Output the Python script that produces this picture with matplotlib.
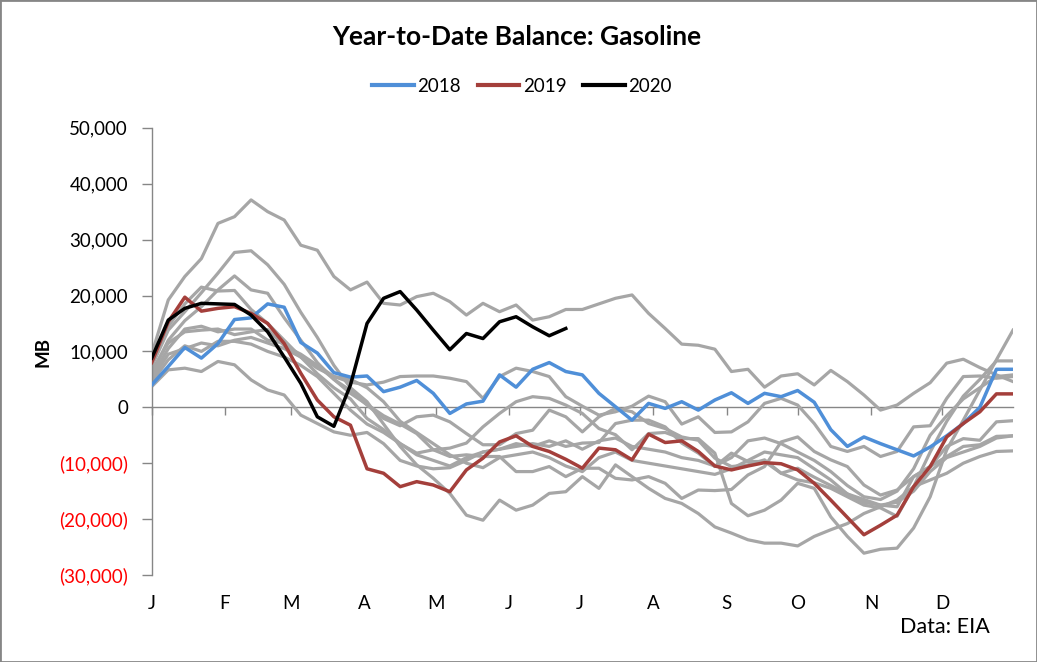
import matplotlib
matplotlib.use("Agg")
import matplotlib.pyplot as plt
from matplotlib.patches import Rectangle
from matplotlib.lines import Line2D
import numpy as np

plt.rcParams['font.family'] = ['Lato', 'DejaVu Sans']

# ---- data (thousand barrels, weekly) ----
months = ["J", "F", "M", "A", "M", "J", "J", "A", "S", "O", "N", "D"]
month_start_day = [0, 31, 59, 90, 120, 151, 181, 212, 243, 273, 304, 334]

y2018 = [4.0, 7.3, 10.7, 8.8, 11.4, 15.7, 16.0, 18.5, 17.9, 11.6, 9.7, 6.2, 5.4, 5.6, 2.8, 3.6, 4.8, 2.5,
         -1.1, 0.6, 1.1, 5.8, 3.6, 6.8, 8.0, 6.4, 5.8, 2.5, 0.1, -2.3, 0.7, -0.2, 1.0, -0.5, 1.3, 2.6,
         0.7, 2.5, 1.9, 3.0, 0.9, -4.0, -7.0, -5.3, -6.5, -7.6, -8.7, -7.1, -5.1, -2.9, 0.0, 6.8, 6.8]
y2019 = [8.0, 15.3, 19.7, 17.2, 17.7, 18.0, 16.8, 15.0, 11.4, 6.1, 1.3, -1.7, -3.2, -11.0, -11.8, -14.2,
         -13.3, -13.9, -15.1, -11.2, -9.1, -6.2, -5.1, -7.0, -7.9, -9.3, -10.9, -7.3, -7.6, -9.4, -4.8,
         -6.3, -6.0, -7.9, -10.5, -11.2, -10.5, -9.9, -10.1, -11.2, -13.6, -16.6, -19.7, -22.8, -21.1,
         -19.3, -14.2, -10.6, -5.3, -2.9, -0.8, 2.4, 2.4]
y2020 = [8.8, 15.6, 17.7, 18.6, 18.5, 18.4, 16.5, 13.5, 9.0, 4.3, -1.7, -3.4, 4.0, 15.0, 19.5, 20.7,
         17.4, 13.8, 10.3, 13.2, 12.3, 15.3, 16.2, 14.4, 12.8, 14.1]

gray_a = [9.5, 19.2, 23.4, 26.6, 32.9, 34.1, 37.1, 35.0, 33.5, 29.0, 28.1, 23.4, 21.0, 22.4, 18.6, 18.3,
          19.8, 20.4, 18.9, 16.5, 18.6, 17.1, 18.3, 15.6, 16.2, 17.5, 17.5, 18.5, 19.5, 20.1, 16.8, 14.1,
          11.3, 11.1, 10.4, 6.4, 6.8, 3.6, 5.6, 6.0, 4.0, 6.6, 4.6, 2.2, -0.5, 0.4, 2.5, 4.4, 7.9, 8.6,
          7.1, 5.8, 4.6]
gray_b = [7.3, 13.8, 17.1, 20.5, 24.0, 27.7, 28.0, 25.5, 22.0, 17.0, 12.5, 7.5, 3.5, 1.0, -3.0, -7.0,
          -10.3, -12.7, -15.4, -19.3, -20.2, -16.6, -18.4, -17.5, -15.4, -15.1, -12.4, -14.5, -10.3,
          -12.4, -14.5, -16.3, -17.2, -19.0, -21.4, -22.5, -23.7, -24.3, -24.3, -24.8, -23.1, -21.9,
          -20.8, -19.0, -17.8, -16.6, -14.2, -13.0, -11.8, -10.0, -8.8, -7.9, -7.8]
gray_c = [6.0, 12.0, 15.5, 18.0, 21.0, 23.5, 21.0, 20.4, 16.0, 12.0, 8.0, 5.0, 2.5, 0.5, -1.5, -3.0,
          -4.7, -7.6, -8.8, -8.5, -8.8, -8.8, -11.5, -11.5, -10.6, -12.4, -10.9, -10.9, -12.7, -13.0,
          -12.4, -13.6, -16.3, -14.8, -14.9, -14.7, -12.1, -10.6, -6.2, -5.3, -7.9, -9.4, -10.6, -13.9,
          -15.7, -14.8, -12.4, -10.6, -8.8, -7.0, -6.7, -5.2, -5.1]
gray_d = [8.0, 14.5, 18.5, 21.5, 20.8, 20.9, 17.5, 15.0, 12.0, 9.0, 7.0, 5.5, 4.5, 4.0, 4.5, 5.5, 5.6,
          5.6, 5.2, 4.6, 1.6, 5.5, 7.0, 6.4, 5.5, 1.9, 0.2, -1.4, -0.8, 0.2, 2.0, 1.0, -3.0, -1.7, -4.5,
          -4.4, -2.6, 0.7, 1.6, 0.4, -2.9, -7.0, -7.9, -7.0, -8.8, -7.9, -3.5, -3.3, 1.6, 5.5, 5.6, 5.2,
          5.5]
gray_e = [6.5, 11.5, 13.5, 13.8, 14.0, 13.0, 13.5, 13.9, 11.0, 9.5, 7.5, 5.0, 3.0, 0.4, -2.0, -3.3,
          -1.7, -1.4, -2.6, -4.7, -6.7, -6.7, -4.7, -4.1, -0.5, -1.7, -4.4, -1.7, -0.2, -0.8, -2.9,
          -3.8, -5.3, -5.9, -9.1, -10.6, -10.3, -9.4, -11.8, -13.0, -13.5, -14.5, -16.0, -17.5, -18.0,
          -19.5, -14.2, -8.0, -2.5, 2.0, 5.0, 8.3, 8.3]
gray_f = [5.0, 9.5, 10.5, 11.5, 11.0, 12.0, 12.5, 11.5, 10.5, 9.0, 6.0, 3.5, 1.5, -2.0, -4.0, -6.5,
          -8.2, -7.6, -7.3, -6.4, -3.5, -1.1, 1.0, 1.9, 1.6, 0.4, -1.1, -3.8, -4.9, -7.6, -4.7, -4.5,
          -5.6, -5.6, -8.2, -17.2, -19.4, -18.4, -16.6, -13.6, -14.5, -19.6, -23.1, -26.1, -25.4, -25.2,
          -21.6, -16.0, -7.6, -2.3, 3.1, 8.5, 13.8]
gray_g = [4.5, 8.5, 11.0, 10.0, 11.8, 11.8, 11.3, 10.0, 9.0, 7.5, 5.5, 2.5, -0.5, -3.0, -4.5, -6.5,
          -8.5, -9.5, -10.5, -9.0, -8.0, -7.5, -6.5, -7.0, -6.0, -7.0, -6.4, -6.3, -2.9, -2.3, -2.3,
          -3.5, -6.4, -8.2, -10.6, -8.2, -9.7, -9.7, -11.8, -10.9, -12.5, -14.0, -15.5, -16.5, -17.5,
          -17.8, -12.4, -10.6, -7.0, -5.6, -5.9, -2.6, -2.4]
gray_h = [3.7, 6.7, 7.0, 6.4, 8.2, 7.6, 4.9, 3.1, 2.2, -1.4, -2.9, -4.4, -5.0, -4.5, -6.5, -9.5, -10.5,
          -11.0, -10.8, -9.5, -8.0, -7.5, -7.0, -6.5, -7.0, -6.0, -7.5, -6.0, -5.5, -7.0, -7.5, -8.0,
          -9.0, -9.5, -10.5, -9.0, -6.0, -5.5, -6.5, -8.0, -9.5, -11.5, -14.0, -16.0, -16.5, -15.0,
          -11.0, -5.0, -1.5, 1.5, 3.5, 5.5, 5.8]
gray_i = [5.5, 10.5, 14.0, 14.5, 13.5, 14.0, 14.0, 12.0, 11.5, 9.0, 7.5, 5.5, 5.0, 3.5, 1.0, -2.5,
          -4.5, -6.5, -8.5, -10.0, -10.8, -9.0, -8.5, -8.0, -9.0, -10.5, -11.5, -9.0, -8.0, -9.5,
          -10.0, -10.5, -11.0, -11.5, -12.0, -11.0, -9.5, -8.0, -8.5, -9.0, -11.0, -13.0, -15.5, -17.0,
          -17.5, -17.0, -15.0, -11.5, -9.0, -8.0, -7.0, -5.5, -5.1]
gray_years = [gray_a, gray_b, gray_c, gray_d, gray_e, gray_f, gray_g, gray_h, gray_i]

y_ticks = [-30000, -20000, -10000, 0, 10000, 20000, 30000, 40000, 50000]

# ---- style ----
GRAY = '#A6A6A6'
BLUE = '#4F8FD8'
RED = '#A43F3B'
AXC = '#868686'

W, H = 1037, 662
fig = plt.figure(figsize=(W / 100, H / 100), dpi=100)
ax = fig.add_axes([151.7 / W, (H - 575) / H, (1013 - 151.7) / W, (575 - 127.8) / H])

for g in gray_years:
    ax.plot(np.arange(len(g)), np.array(g) * 1000, color=GRAY, lw=2.3, solid_joinstyle='round', zorder=2)
ax.plot(np.arange(len(y2018)), np.array(y2018) * 1000, color=BLUE, lw=2.5, zorder=3, label='2018')
ax.plot(np.arange(len(y2019)), np.array(y2019) * 1000, color=RED, lw=2.5, zorder=4, label='2019')
ax.plot(np.arange(len(y2020)), np.array(y2020) * 1000, color='black', lw=2.5, zorder=5, label='2020')

ax.set_xlim(0, 52)
ax.set_ylim(-30000, 50000)

for s in ['top', 'right']:
    ax.spines[s].set_visible(False)
ax.spines['left'].set_color(AXC)
ax.spines['left'].set_linewidth(1.0)
ax.spines['bottom'].set_position(('data', 0))
ax.spines['bottom'].set_color(AXC)
ax.spines['bottom'].set_linewidth(1.0)
ax.spines['bottom'].set_zorder(1)

month_pos = [d / 7 for d in month_start_day]
ax.set_xticks(month_pos)
ax.tick_params(axis='x', direction='out', length=6, width=1, color=AXC, labelbottom=False)
for p, m in zip(month_pos, months):
    ax.text(p, -0.063, m, transform=ax.get_xaxis_transform(), ha='center', va='center',
            fontsize=13.5, color='black')

ax.set_yticks(y_ticks)
labels = []
for v in y_ticks:
    if v < 0:
        labels.append('({:,})'.format(-v))
    else:
        labels.append('{:,}'.format(v))
ax.set_yticklabels(labels)
ax.tick_params(axis='y', direction='out', length=7, width=1, color=AXC, pad=10, labelsize=13.5)
for lab, v in zip(ax.get_yticklabels(), y_ticks):
    lab.set_color('#FF0000' if v < 0 else 'black')

fig.text(517 / W, 1 - 37 / H, 'Year-to-Date Balance: Gasoline', ha='center', va='center',
         fontsize=19, fontweight='bold')
fig.text(43 / W, 1 - 352 / H, 'MB', rotation=90, ha='center', va='center', fontsize=13.5,
         fontweight='bold')
fig.text(990 / W, 1 - 627 / H, 'Data: EIA', ha='right', va='center', fontsize=15.5)

handles = [Line2D([], [], color=BLUE, lw=3), Line2D([], [], color=RED, lw=3),
           Line2D([], [], color='black', lw=3)]
fig.legend(handles, ['2018', '2019', '2020'], loc='center', bbox_to_anchor=(522 / W, 1 - 86 / H),
           ncol=3, frameon=False, fontsize=13.5, handlelength=2.2, handletextpad=0.2,
           columnspacing=0.9)

fig.patches.append(Rectangle((0, 0), 1, 1, transform=fig.transFigure, fill=False,
                             edgecolor=AXC, lw=2.0))

fig.savefig('out.png', dpi=100)
